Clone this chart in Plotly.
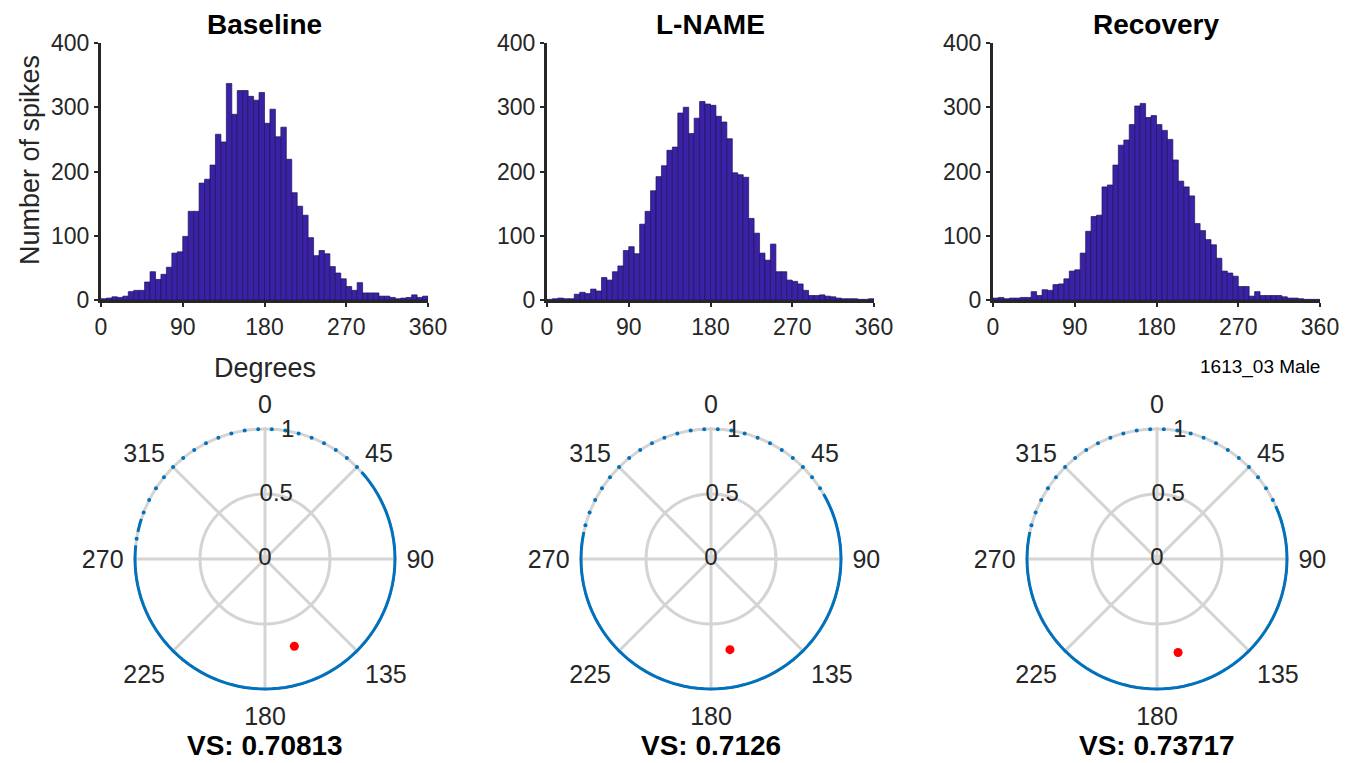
import numpy as np
import plotly.graph_objects as go

# ---------------- data ----------------
conditions = ["Baseline", "L-NAME", "Recovery"]
bin_width_deg = 6
bin_centers = np.arange(bin_width_deg / 2, 360, bin_width_deg)

baseline_counts = [2, 3, 5, 4, 6, 13, 15, 15, 28, 44, 32, 40, 51, 73, 75, 99, 138, 138, 182, 188,
                   210, 258, 246, 337, 289, 326, 326, 317, 311, 323, 275, 297, 254, 269, 219, 167, 146, 132, 97, 69,
                   77, 72, 52, 42, 33, 21, 15, 27, 11, 11, 11, 6, 6, 4, 2, 3, 4, 8, 4, 6]
lname_counts = [1, 2, 3, 2, 2, 9, 12, 10, 17, 14, 35, 31, 44, 53, 77, 83, 72, 118, 138, 170,
                192, 209, 233, 238, 291, 300, 259, 283, 309, 305, 303, 286, 277, 251, 198, 195, 191, 127, 104, 73,
                62, 87, 44, 44, 31, 29, 25, 15, 7, 7, 8, 6, 5, 3, 2, 2, 2, 1, 1, 2]
recovery_counts = [3, 4, 2, 3, 3, 4, 4, 13, 7, 16, 15, 24, 25, 33, 45, 47, 73, 107, 130, 132,
                   176, 179, 210, 241, 249, 273, 302, 306, 284, 287, 273, 264, 250, 218, 185, 176, 162, 119, 108, 94,
                   86, 65, 45, 42, 37, 21, 21, 6, 13, 7, 7, 7, 7, 5, 3, 3, 2, 1, 1, 1]
all_counts = [baseline_counts, lname_counts, recovery_counts]

vector_strength = [0.70813, 0.7126, 0.73717]
mean_phase_deg = [161.4, 168.2, 167.3]

hist_xticks = [0, 90, 180, 270, 360]
hist_yticks = [0, 100, 200, 300, 400]
polar_ticks = [0, 45, 90, 135, 180, 225, 270, 315]
radial_labels = ["0", "0.5", "1"]
radial_values = [0, 0.5, 1]
radial_label_angle = 10

# ---------------- style / layout constants ----------------
W, H = 1355, 763
FONT = "Liberation Sans, Arial, sans-serif"
TXT = "#262626"
BAR = "#3a21a6"
EDGE = "#1e1458"
RING = "#0072BD"
GRID = "#d4d4d4"
dense_threshold = 18
r_max = 1.015  # small headroom so the ring at r=1 is not clipped

hist_left = [101, 547, 993]
hist_w = 327
hist_top, hist_bot = 43, 300
polar_cx = [265, 711, 1157]
polar_cy = 559
polar_r = 130 * r_max


def px_x(x):
    return x / W


def px_y(y):
    return 1 - y / H


fig = go.Figure()
annotations = []
layout = dict(
    width=W, height=H, margin=dict(l=0, r=0, t=0, b=0, pad=0, autoexpand=False),
    paper_bgcolor="white", plot_bgcolor="white", showlegend=False,
    font=dict(family=FONT, color=TXT),
)

for i, (name, counts) in enumerate(zip(conditions, all_counts)):
    sfx = "" if i == 0 else str(i + 1)
    fig.add_trace(go.Bar(
        x=bin_centers, y=counts, width=bin_width_deg,
        marker=dict(color=BAR, line=dict(color=EDGE, width=0.7)),
        xaxis="x" + sfx, yaxis="y" + sfx, hoverinfo="x+y",
    ))
    ax_common = dict(showgrid=False, zeroline=False, showline=True, linewidth=3,
                     linecolor=TXT, ticks="outside", ticklen=4, tickwidth=2, tickcolor=TXT,
                     tickfont=dict(size=23, family=FONT, color=TXT), fixedrange=True,
                     automargin=False)
    layout["xaxis" + sfx] = dict(
        domain=[px_x(hist_left[i]), px_x(hist_left[i] + hist_w)],
        range=[0, 360], tickmode="array", tickvals=hist_xticks,
        anchor="y" + sfx, **ax_common)
    layout["yaxis" + sfx] = dict(
        domain=[px_y(hist_bot), px_y(hist_top)],
        range=[0, 400], tickmode="array", tickvals=hist_yticks,
        anchor="x" + sfx, **ax_common)

    annotations.append(dict(
        text="<b>%s</b>" % name, x=px_x(hist_left[i] + hist_w / 2), y=px_y(24),
        xref="paper", yref="paper", showarrow=False, xanchor="center", yanchor="middle",
        font=dict(size=28, family=FONT, color="black")))

    # ---- polar ----
    psub = "polar" + sfx
    dense_theta, dense_r = [], []
    sparse_theta = []
    for c, th in zip(counts, bin_centers):
        if c >= dense_threshold:
            dense_theta += [float(th - bin_width_deg / 2), float(th), float(th + bin_width_deg / 2)]
            dense_r += [1, 1, 1]
        else:
            dense_theta.append(None)
            dense_r.append(None)
            if c > 0:
                sparse_theta.append(float(th))
    fig.add_trace(go.Scatterpolar(
        r=dense_r, theta=dense_theta, mode="lines", subplot=psub, cliponaxis=False,
        line=dict(color=RING, width=3), connectgaps=False, hoverinfo="skip"))
    fig.add_trace(go.Scatterpolar(
        r=[1] * len(sparse_theta), theta=sparse_theta, mode="markers", subplot=psub,
        cliponaxis=False, marker=dict(color=RING, size=4), hoverinfo="skip"))
    fig.add_trace(go.Scatterpolar(
        r=radial_values, theta=[radial_label_angle] * len(radial_values), text=radial_labels,
        mode="text", textposition="middle center", subplot=psub, cliponaxis=False,
        textfont=dict(size=24, family=FONT, color=TXT), hoverinfo="skip"))
    fig.add_trace(go.Scatterpolar(
        r=[vector_strength[i]], theta=[mean_phase_deg[i]], mode="markers", subplot=psub,
        marker=dict(color="red", size=9)))

    layout[psub] = dict(
        domain=dict(x=[px_x(polar_cx[i] - polar_r), px_x(polar_cx[i] + polar_r)],
                    y=[px_y(polar_cy + polar_r), px_y(polar_cy - polar_r)]),
        bgcolor="white",
        angularaxis=dict(direction="clockwise", rotation=90, tickmode="array",
                         tickvals=polar_ticks, ticktext=[str(t) for t in polar_ticks],
                         tickfont=dict(size=25, family=FONT, color=TXT),
                         showline=False, layer="below traces",
                         showgrid=True, gridcolor=GRID, gridwidth=2.5,
                         ticks="outside", ticklen=4, tickcolor="rgba(0,0,0,0)"),
        radialaxis=dict(range=[0, r_max], tickmode="array", tickvals=[0.5, 1],
                        showticklabels=False, showline=False, ticks="", layer="below traces",
                        showgrid=True, gridcolor=GRID, gridwidth=2.5),
    )

    annotations.append(dict(
        text="<b>VS: %s</b>" % vector_strength[i], x=px_x(polar_cx[i]), y=px_y(745),
        xref="paper", yref="paper", showarrow=False, xanchor="center", yanchor="middle",
        font=dict(size=28, family=FONT, color="black")))

annotations.append(dict(
    text="Number of spikes", x=px_x(30), y=px_y(160), textangle=-90,
    xref="paper", yref="paper", showarrow=False, xanchor="center", yanchor="middle",
    font=dict(size=27, family=FONT, color=TXT)))
annotations.append(dict(
    text="Degrees", x=px_x(265), y=px_y(368),
    xref="paper", yref="paper", showarrow=False, xanchor="center", yanchor="middle",
    font=dict(size=27, family=FONT, color=TXT)))
annotations.append(dict(
    text="1613_03 Male", x=px_x(1260), y=px_y(367),
    xref="paper", yref="paper", showarrow=False, xanchor="center", yanchor="middle",
    font=dict(size=19, family=FONT, color="black")))

layout["annotations"] = annotations
fig.update_layout(**layout)
fig.write_html("out.html")
